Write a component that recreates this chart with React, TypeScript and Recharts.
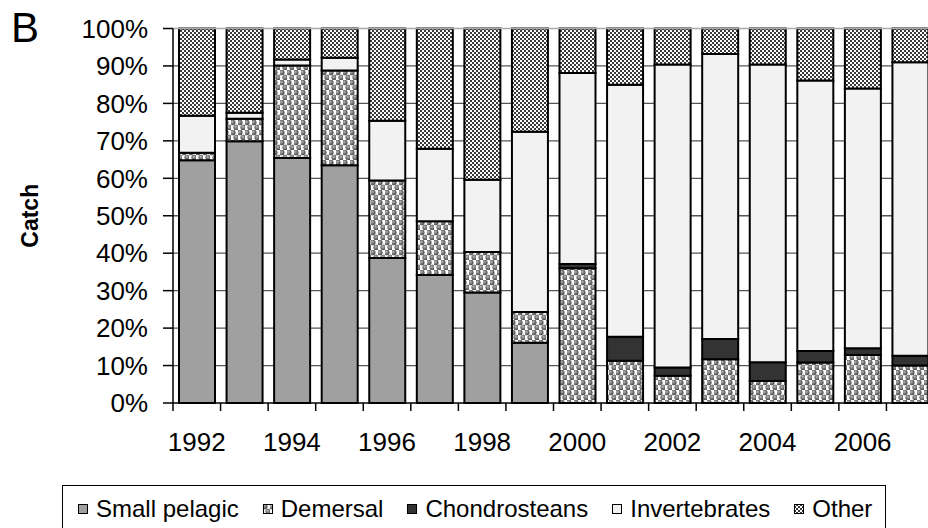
import React from "react";
import {
  BarChart,
  Bar,
  XAxis,
  YAxis,
  CartesianGrid,
  ReferenceLine,
} from "recharts";

const years = [1992, 1993, 1994, 1995, 1996, 1997, 1998, 1999, 2000, 2001, 2002, 2003, 2004, 2005, 2006, 2007];
const smallPelagic = [64.8, 69.9, 65.4, 63.5, 38.7, 34.2, 29.5, 16.1, 0, 0, 0, 0, 0, 0, 0, 0];
const demersal = [2.0, 6.0, 24.7, 25.3, 20.7, 14.3, 10.8, 8.2, 36.0, 11.3, 7.3, 11.7, 5.9, 10.8, 12.8, 10.0];
const chondrosteans = [0, 0, 0, 0, 0, 0, 0, 0, 1.1, 6.4, 2.2, 5.4, 5.0, 3.1, 1.8, 2.6];
const invertebrates = [9.9, 1.6, 1.6, 3.4, 16.0, 19.4, 19.3, 48.1, 51.0, 67.3, 80.9, 76.1, 79.5, 72.2, 69.4, 78.4];
const other = [23.3, 22.5, 8.3, 7.8, 24.6, 32.1, 40.4, 27.6, 11.9, 15.0, 9.6, 6.8, 9.6, 13.9, 16.0, 9.0];
const yTicks = [0, 10, 20, 30, 40, 50, 60, 70, 80, 90, 100];

const series = [
  { key: "smallPelagic", name: "Small pelagic", fill: "#a0a0a0" },
  { key: "demersal", name: "Demersal", fill: "url(#dots)" },
  { key: "chondrosteans", name: "Chondrosteans", fill: "#333333" },
  { key: "invertebrates", name: "Invertebrates", fill: "#f2f2f2" },
  { key: "other", name: "Other", fill: "url(#checker)" },
];

const data = years.map((year, i) => ({
  year,
  smallPelagic: smallPelagic[i],
  demersal: demersal[i],
  chondrosteans: chondrosteans[i],
  invertebrates: invertebrates[i],
  other: other[i],
}));

const font = "'Liberation Sans', Arial, sans-serif";

function YearTick(props: any) {
  const { x, y, payload } = props;
  const half = payload?.offset ?? 23.8;
  const year = Number(payload.value);
  return (
    <g>
      <line x1={x - half} x2={x - half} y1={y - 8} y2={y} stroke="#000" strokeWidth={1.5} />
      {year % 2 === 0 && (
        <text x={x} y={y + 40} textAnchor="middle" fontSize={26} fill="#000" fontFamily={font}>
          {year}
        </text>
      )}
    </g>
  );
}

function CatchLabel(props: any) {
  const { viewBox } = props;
  const cx = viewBox.x + 30;
  const cy = viewBox.y + viewBox.height / 2;
  return (
    <text
      x={cx}
      y={cy}
      textAnchor="middle"
      dominantBaseline="central"
      transform={`rotate(-90, ${cx}, ${cy})`}
      fontSize={23}
      fontWeight="bold"
      fontFamily={font}
      fill="#000"
    >
      Catch
    </text>
  );
}

export default function App() {
  return (
    <div style={{ position: "absolute", left: 0, top: 0, width: 928, height: 528, overflow: "hidden", background: "#fff", fontFamily: font }}>
      <div style={{ position: "absolute", left: 11, top: 4, fontSize: 42, lineHeight: "48px", color: "#000" }}>B</div>
      <BarChart
        width={934}
        height={528}
        data={data}
        margin={{ top: 28.5, right: 0, bottom: 85, left: 0 }}
        barSize={36}
      >
        <defs>
          {/* shaded balls for Demersal */}
          <radialGradient id="ball" cx="0.4" cy="0.35" r="0.6">
            <stop offset="0" stopColor="#b5b5b5" />
            <stop offset="1" stopColor="#555" />
          </radialGradient>
          <pattern id="dots" width="7" height="10" patternUnits="userSpaceOnUse">
            <rect width="7" height="10" fill="#fff" />
            <circle cx="1.75" cy="2.5" r="2.6" fill="url(#ball)" stroke="#444" strokeWidth="0.5" />
            <circle cx="5.25" cy="7.5" r="2.6" fill="url(#ball)" stroke="#444" strokeWidth="0.5" />
          </pattern>
          <pattern id="checker" width="4" height="4" patternUnits="userSpaceOnUse">
            <rect width="4" height="4" fill="#3a3a3a" />
            <rect x="0" y="0" width="2" height="2" fill="#fff" />
            <rect x="2" y="2" width="2" height="2" fill="#fff" />
          </pattern>
        </defs>
        <CartesianGrid vertical={false} horizontalValues={[10, 20, 30, 40, 50, 60, 70, 80, 90]} stroke="#555" strokeWidth={1.3} />
        <ReferenceLine y={100} stroke="#aaa" strokeWidth={1.5} />
        <XAxis
          dataKey="year"
          interval={0}
          height={40}
          tickLine={false}
          tickSize={8}
          tickMargin={0}
          tick={<YearTick />}
          axisLine={{ stroke: "#000", strokeWidth: 1.5 }}
        />
        <YAxis
          width={173}
          domain={[0, 100]}
          ticks={yTicks}
          interval={0}
          tickFormatter={(v: number) => `${v}%`}
          tickSize={10}
          tickMargin={15}
          tick={{ fontSize: 26, fill: "#000", fontFamily: font }}
          tickLine={{ stroke: "#000", strokeWidth: 1.5 }}
          axisLine={{ stroke: "#000", strokeWidth: 1.5 }}
          label={{ content: <CatchLabel /> }}
        />
        {series.map((s) => (
          <Bar
            key={s.key}
            dataKey={s.key}
            name={s.name}
            stackId="a"
            fill={s.fill}
            stroke="#000"
            strokeWidth={2}
            isAnimationActive={false}
          />
        ))}
      </BarChart>
      <div
        style={{
          position: "absolute",
          left: 62,
          top: 485,
          width: 824,
          height: 60,
          border: "1.5px solid #000",
          boxSizing: "border-box",
        }}
      />
      <div
        style={{
          position: "absolute",
          left: 78,
          top: 497,
          display: "flex",
          alignItems: "center",
          fontSize: 24,
          lineHeight: "24px",
          color: "#000",
          whiteSpace: "nowrap",
        }}
      >
        {series.map((s) => (
          <div key={s.key} style={{ display: "flex", alignItems: "center", marginRight: 24 }}>
            <svg width={10} height={10} style={{ marginRight: 8, display: "block" }}>
              <rect x={0.5} y={0.5} width={9} height={9} fill={s.fill} stroke="#000" strokeWidth={1} />
            </svg>
            <span>{s.name}</span>
          </div>
        ))}
      </div>
    </div>
  );
}
